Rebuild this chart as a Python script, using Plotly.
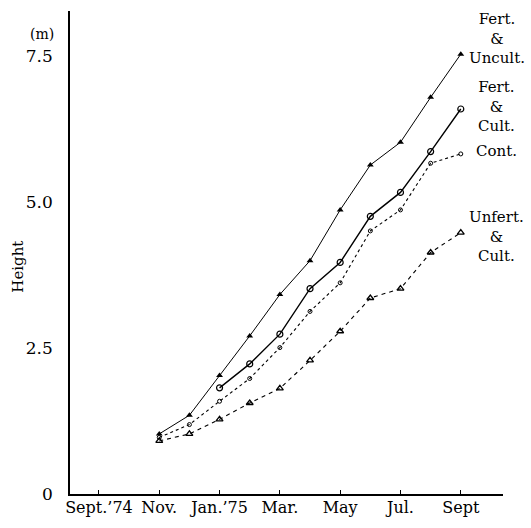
import plotly.graph_objects as go

# months counted from Sept. 1974
months = [2, 3, 4, 5, 6, 7, 8, 9, 10, 11, 12]
tick_months = [0, 2, 4, 6, 8, 10, 12]
tick_labels = ["Sept.\u201974", "Nov.", "Jan.\u201975", "Mar.", "May", "Jul.", "Sept"]

fert_uncult = [1.03, 1.35, 2.03, 2.71, 3.42, 4.00, 4.87, 5.64, 6.03, 6.80, 7.54]
fert_cult = [None, None, 1.82, 2.23, 2.74, 3.52, 3.97, 4.76, 5.17, 5.87, 6.60]
cont = [0.97, 1.19, 1.59, 1.98, 2.51, 3.13, 3.62, 4.51, 4.87, 5.67, 5.83]
unfert_cult = [0.91, 1.03, 1.28, 1.56, 1.81, 2.29, 2.79, 3.36, 3.52, 4.14, 4.48]

FONT = "DejaVu Serif"

fig = go.Figure()
fig.add_trace(go.Scatter(x=months, y=fert_uncult, mode="lines+markers",
                         line=dict(color="black", width=1),
                         marker=dict(symbol="triangle-up", size=6, color="black"),
                         name="Fert. & Uncult."))
fig.add_trace(go.Scatter(x=months, y=fert_cult, mode="lines+markers",
                         line=dict(color="black", width=1.4),
                         marker=dict(symbol="circle-open", size=6, color="black",
                                     line=dict(width=1.2)),
                         name="Fert. & Cult."))
fig.add_trace(go.Scatter(x=months, y=cont, mode="lines+markers",
                         line=dict(color="black", width=1.1, dash="dot"),
                         marker=dict(symbol="circle-open", size=4, color="black",
                                     line=dict(width=1)),
                         name="Cont."))
fig.add_trace(go.Scatter(x=months, y=unfert_cult, mode="lines+markers",
                         line=dict(color="black", width=1.1, dash="4px,4px"),
                         marker=dict(symbol="triangle-up-open", size=6, color="black",
                                     line=dict(width=1.3)),
                         name="Unfert. & Cult."))

labels = [
    ("Fert.<br>&amp;<br>Uncult.", 7.81),
    ("Fert.<br>&amp;<br>Cult.", 6.65),
    ("Cont.", 5.88),
    ("Unfert.<br>&amp;<br>Cult.", 4.42),
]
for txt, yv in labels:
    fig.add_annotation(x=13.2, y=yv, xref="x", yref="y", text=txt, showarrow=False,
                       xanchor="center", yanchor="middle",
                       font=dict(family=FONT, size=15, color="black"))

fig.add_annotation(x=-0.065, y=7.88, xref="paper", yref="y", text="(m)", showarrow=False,
                   xanchor="center", yanchor="middle",
                   font=dict(family=FONT, size=14, color="black"))
fig.add_annotation(x=-0.122, y=0.471, xref="paper", yref="paper", text="Height",
                   showarrow=False, textangle=-90, xanchor="center", yanchor="middle",
                   font=dict(family=FONT, size=15, color="black"))

fig.update_layout(
    width=531, height=528,
    margin=dict(l=70, r=28, t=11, b=19),
    paper_bgcolor="white", plot_bgcolor="white",
    showlegend=False,
    font=dict(family=FONT, color="black"),
)
fig.update_xaxes(range=[-0.96, 13.4], tickvals=tick_months, ticktext=tick_labels,
                 showgrid=False, zeroline=False, showline=True, linecolor="black",
                 linewidth=1.5, ticks="inside", ticklen=4, tickcolor="black",
                 ticklabelstandoff=-2,
                 tickfont=dict(family=FONT, size=16, color="black"))
fig.update_yaxes(range=[0, 8.28], tickvals=[0, 2.5, 5.0, 7.5],
                 ticktext=["0", "2.5", "5.0", "7.5"],
                 showgrid=False, zeroline=False, showline=True, linecolor="black",
                 linewidth=1.5, ticks="", ticklabelstandoff=12,
                 tickfont=dict(family=FONT, size=17, color="black"))

fig.write_html("out.html")
